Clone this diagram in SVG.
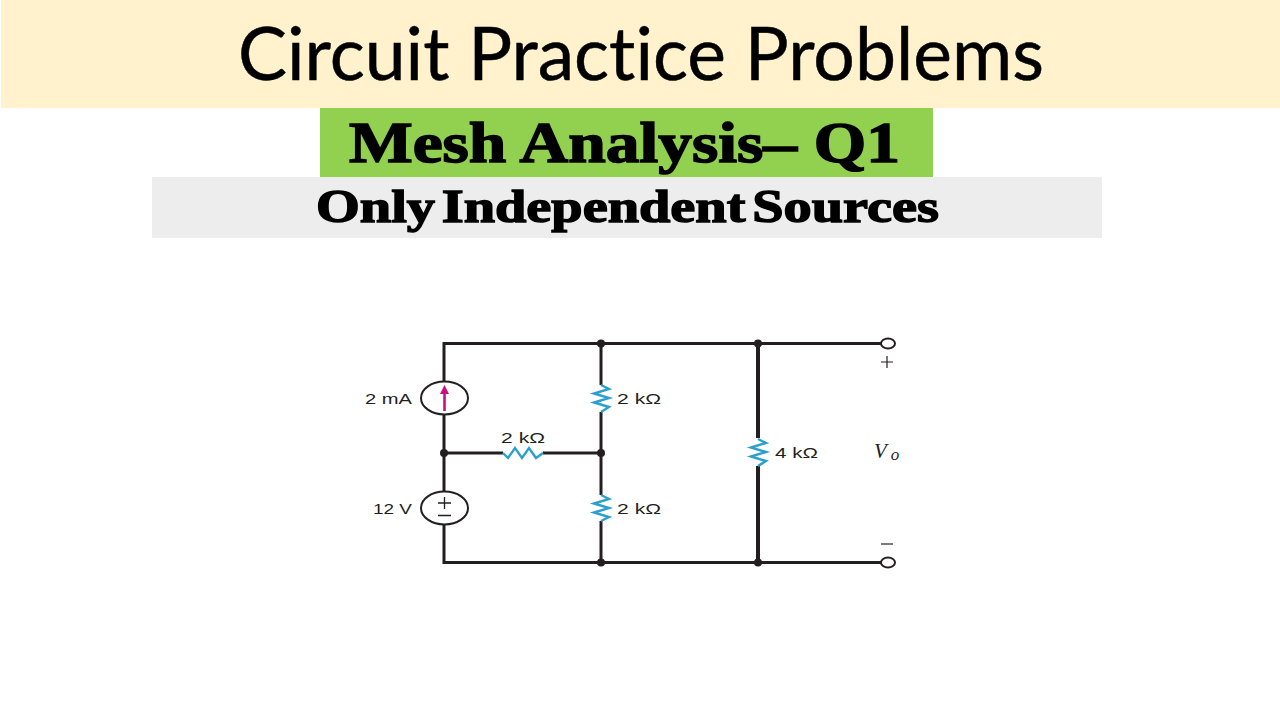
<svg xmlns="http://www.w3.org/2000/svg" width="1280" height="720" viewBox="0 0 1280 720">
<style>
.w{fill:none;stroke:#231f20;stroke-width:3}
.t{fill:none;stroke:#231f20;stroke-width:2}
.r{fill:none;stroke:#2b9fd0;stroke-width:2.4;stroke-linejoin:miter}
.d{fill:#231f20}
.s{fill:#fff;stroke:#231f20;stroke-width:2}
.l{font-family:"Liberation Sans",Arial,sans-serif;font-size:14.5px;fill:#231f20}
.h{font-family:"Liberation Serif","Times New Roman",serif;font-weight:700;fill:#000;stroke:#000}
</style>
<rect width="1280" height="720" fill="#fff"/>
<g id="title"><rect x="1" y="0" width="1279" height="108" fill="#fff2cc"/>
<text x="641" y="80" text-anchor="middle" font-family="Lato,'Open Sans',sans-serif" font-size="73" stroke="#000" stroke-width=".5" style="font-variant-ligatures:none" textLength="806" lengthAdjust="spacingAndGlyphs" fill="#000">Circuit Practice Problems</text></g>
<g id="subtitle1"><rect x="320" y="108" width="613" height="69" fill="#92d050"/>
<text class="h" x="624.500" y="162" text-anchor="middle" font-size="57" stroke-width="1.500" textLength="551" lengthAdjust="spacingAndGlyphs">Mesh Analysis– Q1</text></g>
<g id="subtitle2"><rect x="152" y="177" width="950" height="61" fill="#ededed"/>
<text class="h" x="627.500" y="222" text-anchor="middle" font-size="46" stroke-width="1.400" word-spacing="-6" textLength="623" lengthAdjust="spacingAndGlyphs">Only Independent Sources</text></g>
<g id="connectors">
<path class="w" d="M444 382V343.500H881M444 414V492M444 524V562.500H881"/>
<path class="w" d="M444 453H503M543 453H601"/>
<path class="w" d="M601 343.500V385M601 412V495M601 521V562.500"/>
<path class="w" style="stroke-width:4" d="M758 343.500V438M758 466V562.500"/>
</g>
<g id="source-2mA"><ellipse class="s" cx="444.500" cy="398" rx="23.500" ry="16.500"/>
<path d="M444.500 411V392" stroke="#c8107e" stroke-width="2.600" fill="none"/><path d="M444.500 385L449 394H440Z" fill="#c8107e"/>
<text class="l" x="365" y="404" textLength="47" lengthAdjust="spacingAndGlyphs">2 mA</text></g>
<g id="source-12V"><ellipse class="s" cx="444.500" cy="508" rx="23.500" ry="16.500"/>
<path class="t" style="stroke-width:1.300" d="M438 503H451M444.500 497V509M438 515.500H451"/>
<text class="l" x="373" y="514" textLength="39" lengthAdjust="spacingAndGlyphs">12 V</text></g>
<g id="r-mid"><path class="r" d="M503 453L508 458L515 448L522 458L529 448L536 458L543 453"/>
<text class="l" x="501" y="443" textLength="44" lengthAdjust="spacingAndGlyphs">2 kΩ</text></g>
<g id="r-top"><path class="r" d="M601 385L609 389L594 393.500L609 398L594 402.500L609 407L601 412"/>
<text class="l" x="617" y="404" textLength="44" lengthAdjust="spacingAndGlyphs">2 kΩ</text></g>
<g id="r-bottom"><path class="r" d="M601 495L609 499L594 503.500L609 508L594 512.500L609 517L601 521"/>
<text class="l" x="617" y="514" textLength="44" lengthAdjust="spacingAndGlyphs">2 kΩ</text></g>
<g id="r-4k"><path class="r" d="M758 439L766 443L751 447.500L766 452L751 456.500L766 461L758 466"/>
<text class="l" x="775" y="458" textLength="43" lengthAdjust="spacingAndGlyphs">4 kΩ</text></g>
<g id="junctions">
<circle class="d" cx="601" cy="343.500" r="4"/><circle class="d" cx="758" cy="343.500" r="4"/>
<circle class="d" cx="444" cy="453" r="4"/><circle class="d" cx="601" cy="453" r="4"/>
<circle class="d" cx="601" cy="562.500" r="4"/><circle class="d" cx="758" cy="562.500" r="4"/>
</g>
<g id="terminal-plus"><ellipse class="s" cx="888" cy="343.500" rx="7" ry="5"/><path class="t" style="stroke-width:1.200" d="M881 362H893M887 356V368"/></g>
<g id="terminal-minus"><ellipse class="s" cx="888" cy="562.500" rx="7" ry="5"/><path class="t" style="stroke-width:1.200" d="M881 544H893"/></g>
<g id="vo"><text x="874" y="458" font-family="'Liberation Serif',serif" font-style="italic" font-size="21" fill="#231f20">V<tspan font-size="17" dx="4" dy="2">o</tspan></text></g>
</svg>
